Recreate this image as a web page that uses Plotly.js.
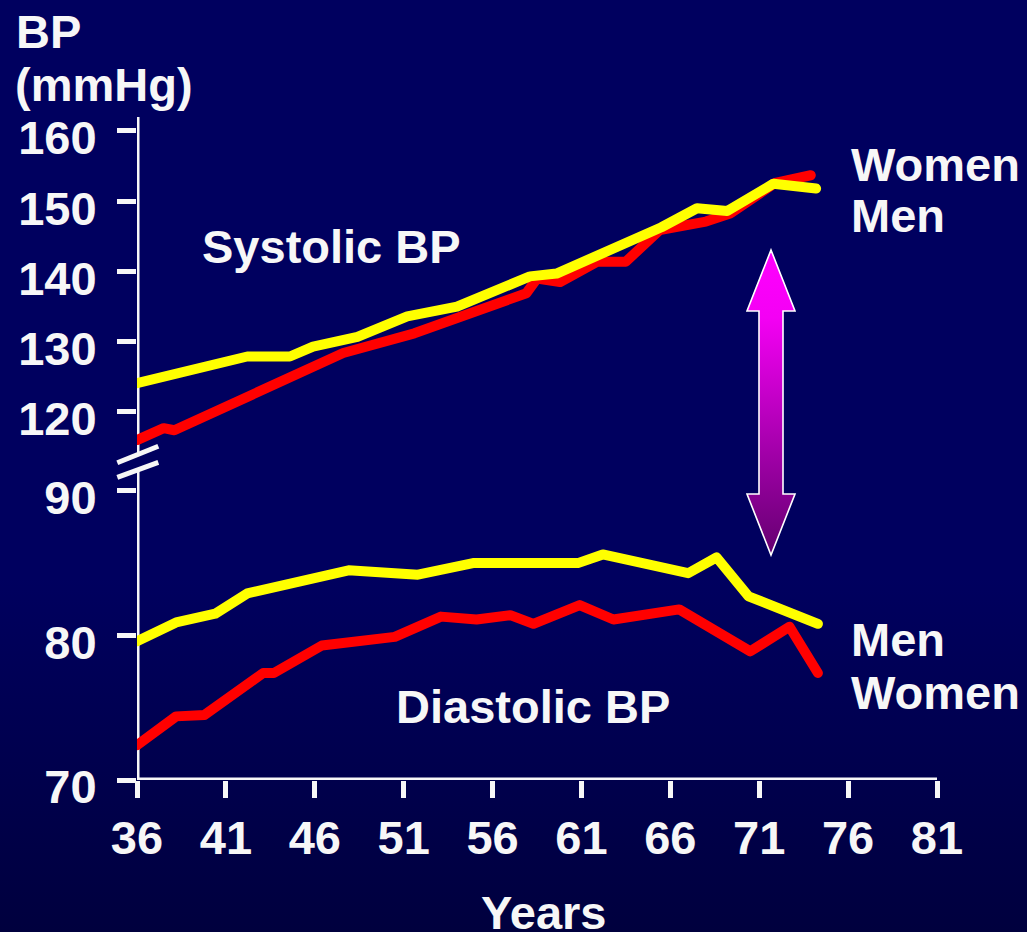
<!DOCTYPE html>
<html>
<head>
<meta charset="utf-8">
<script src="https://cdn.plot.ly/plotly-3.0.1.min.js"></script>
<style>
  html, body { margin: 0; padding: 0; }
  body {
    width: 1027px; height: 932px; overflow: hidden;
    background: linear-gradient(to bottom, #00005f 0%, #00005f 62%, #00003e 100%);
  }
  #chart { width: 1027px; height: 932px; }
  .scatterlayer .js-line { stroke-linecap: round !important; stroke-linejoin: round !important; }
</style>
</head>
<body>
<div id="chart"></div>
<script>
// Systolic blood pressure by age
const sysMenAge   = [36, 42.2, 44.6, 45.9, 48.4, 51.2, 54.0, 58.1, 59.6, 63.5, 65.5, 67.5, 69.2, 71.8, 74.2];
const sysMen      = [124.1, 127.9, 127.9, 129.3, 130.7, 133.6, 135.0, 139.3, 139.7, 144.1, 146.3, 149.0, 148.6, 152.5, 151.8];
const sysWomenAge = [36, 37.5, 38.1, 47.6, 51.6, 54.2, 57.9, 58.5, 59.8, 61.9, 63.5, 65.4, 68.0, 69.4, 71.9, 73.9];
const sysWomen    = [116.0, 117.7, 117.4, 128.4, 131.2, 133.6, 136.9, 139.0, 138.5, 141.4, 141.4, 145.9, 147.1, 148.3, 152.6, 153.7];

// Diastolic blood pressure by age
const diaMenAge   = [36, 38.2, 40.4, 42.2, 47.9, 51.8, 54.9, 60.8, 62.2, 67.0, 68.6, 70.4, 74.3];
const diaMen      = [79.6, 80.9, 81.5, 82.9, 84.5, 84.2, 85.0, 85.0, 85.6, 84.3, 85.4, 82.7, 80.8];
const diaWomenAge = [36, 38.2, 39.8, 43.1, 43.7, 46.4, 50.5, 53.1, 55.1, 57.0, 58.3, 60.9, 62.8, 66.5, 70.5, 72.7, 74.3];
const diaWomen    = [72.4, 74.4, 74.5, 77.4, 77.4, 79.3, 79.9, 81.3, 81.1, 81.4, 80.8, 82.1, 81.1, 81.8, 78.9, 80.6, 77.4];

// Axis ticks
const ageTicks   = [36, 41, 46, 51, 56, 61, 66, 71, 76, 81];
const upperTicks = [120, 130, 140, 150, 160];
const lowerTicks = [70, 80, 90];

// Plot-area geometry in pixels
const L = 137, T = 117, W = 800, H = 663;
const fx = px => (px - L) / W;
const fy = py => (T + H - py) / H;

const WHITE = '#f7f7f7';
const FONT = 'Liberation Sans, Arial, Helvetica, sans-serif';
const bigFont = (size) => ({ family: FONT, size: size, color: WHITE, weight: 'bold' });

const RED = '#ff0000', YELLOW = '#ffff00';
const LW = 10;

const lowerRange = [70, 91.44];
const upperRange = [114.02, 161.99];

const traces = [
  { x: sysWomenAge, y: sysWomen, yaxis: 'y2', name: 'Women', mode: 'lines', line: { color: RED, width: LW }, cliponaxis: false },
  { x: sysMenAge,   y: sysMen,   yaxis: 'y2', name: 'Men',   mode: 'lines', line: { color: YELLOW, width: LW }, cliponaxis: false },
  { x: diaWomenAge, y: diaWomen, yaxis: 'y',  name: 'Women', mode: 'lines', line: { color: RED, width: LW }, cliponaxis: false },
  { x: diaMenAge,   y: diaMen,   yaxis: 'y',  name: 'Men',   mode: 'lines', line: { color: YELLOW, width: LW }, cliponaxis: false }
];

// Double-headed gradient arrow between the systolic and diastolic panels
const arrowSvg =
  "<svg xmlns='http://www.w3.org/2000/svg' width='52' height='310' viewBox='0 0 52 310'>" +
  "<defs><linearGradient id='g' x1='0' y1='0' x2='0' y2='1'>" +
  "<stop offset='0' stop-color='#ff00ff'/><stop offset='0.22' stop-color='#f400f4'/>" +
  "<stop offset='1' stop-color='#640070'/></linearGradient></defs>" +
  "<path d='M26,2 L50,63 L38,63 L38,246 L50,246 L26,307 L2,246 L14,246 L14,63 L2,63 Z' " +
  "fill='url(#g)' stroke='#ffffff' stroke-width='1.6'/></svg>";
const arrowSrc = 'data:image/svg+xml;charset=utf-8,' + encodeURIComponent(arrowSvg);

const axisLine = { color: WHITE, width: 5 };

const layout = {
  width: 1027, height: 932,
  margin: { l: L, r: 1027 - L - W, t: T, b: 932 - T - H, pad: 0 },
  paper_bgcolor: 'rgba(0,0,0,0)',
  plot_bgcolor: 'rgba(0,0,0,0)',
  showlegend: false,
  hovermode: false,
  xaxis: {
    range: [36, 81], anchor: 'y', showgrid: false, zeroline: false, showline: false,
    tickmode: 'array', tickvals: ageTicks, ticktext: ageTicks.map(String),
    ticks: 'outside', ticklen: 17, tickwidth: 5, tickcolor: WHITE,
    tickfont: bigFont(47), ticklabelstandoff: 0
  },
  yaxis: {
    domain: [0, fy(470)], range: lowerRange, anchor: 'x', showgrid: false, zeroline: false, showline: false,
    tickmode: 'array', tickvals: lowerTicks, ticktext: lowerTicks.map(String),
    ticks: 'outside', ticklen: 19, tickwidth: 5, tickcolor: WHITE,
    tickfont: bigFont(47), ticklabelstandoff: 11, ticklabelshift: 7
  },
  yaxis2: {
    domain: [fy(454), 1], range: upperRange, anchor: 'x', showgrid: false, zeroline: false, showline: false,
    tickmode: 'array', tickvals: upperTicks, ticktext: upperTicks.map(String),
    ticks: 'outside', ticklen: 19, tickwidth: 5, tickcolor: WHITE,
    tickfont: bigFont(47), ticklabelstandoff: 11, ticklabelshift: 7
  },
  shapes: [
    // axis lines
    { type: 'line', layer: 'below', xref: 'x', yref: 'y',  x0: 36, x1: 81, y0: 70, y1: 70, line: axisLine },
    { type: 'line', layer: 'below', xref: 'x', yref: 'y',  x0: 36, x1: 36, y0: lowerRange[0], y1: lowerRange[1], line: axisLine },
    { type: 'line', layer: 'below', xref: 'x', yref: 'y2', x0: 36, x1: 36, y0: upperRange[0], y1: upperRange[1], line: axisLine },
    // axis break marks
    { type: 'line', layer: 'below', xref: 'paper', yref: 'paper', x0: fx(117.3), y0: fy(462.7), x1: fx(158.3), y1: fy(446.2), line: axisLine },
    { type: 'line', layer: 'below', xref: 'paper', yref: 'paper', x0: fx(117.3), y0: fy(477.3), x1: fx(158.3), y1: fy(462.4), line: axisLine }
  ],
  images: [
    { source: arrowSrc, xref: 'paper', yref: 'paper', x: fx(745), y: fy(248),
      sizex: 52 / W, sizey: 310 / H, xanchor: 'left', yanchor: 'top', sizing: 'stretch', layer: 'above' }
  ],
  annotations: [
    { text: 'BP', x: fx(14), y: fy(31), xanchor: 'left', yanchor: 'middle', font: bigFont(47) },
    { text: '(mmHg)', x: fx(13), y: fy(85), xanchor: 'left', yanchor: 'middle', font: bigFont(47) },
    { text: 'Systolic BP', x: fx(331), y: fy(247), xanchor: 'center', yanchor: 'middle', font: bigFont(47) },
    { text: 'Diastolic BP', x: fx(532.5), y: fy(706), xanchor: 'center', yanchor: 'middle', font: bigFont(47) },
    { text: 'Women', x: fx(849), y: fy(165), xanchor: 'left', yanchor: 'middle', font: bigFont(47) },
    { text: 'Men', x: fx(849), y: fy(215.5), xanchor: 'left', yanchor: 'middle', font: bigFont(47) },
    { text: 'Men', x: fx(849), y: fy(639), xanchor: 'left', yanchor: 'middle', font: bigFont(47) },
    { text: 'Women', x: fx(849), y: fy(692.5), xanchor: 'left', yanchor: 'middle', font: bigFont(47) },
    { text: 'Years', x: fx(543.3), y: fy(912), xanchor: 'center', yanchor: 'middle', font: bigFont(47) }
  ].map(a => Object.assign({ xref: 'paper', yref: 'paper', showarrow: false }, a))
};

Plotly.newPlot('chart', traces, layout, { displayModeBar: false, staticPlot: true });
</script>
</body>
</html>
